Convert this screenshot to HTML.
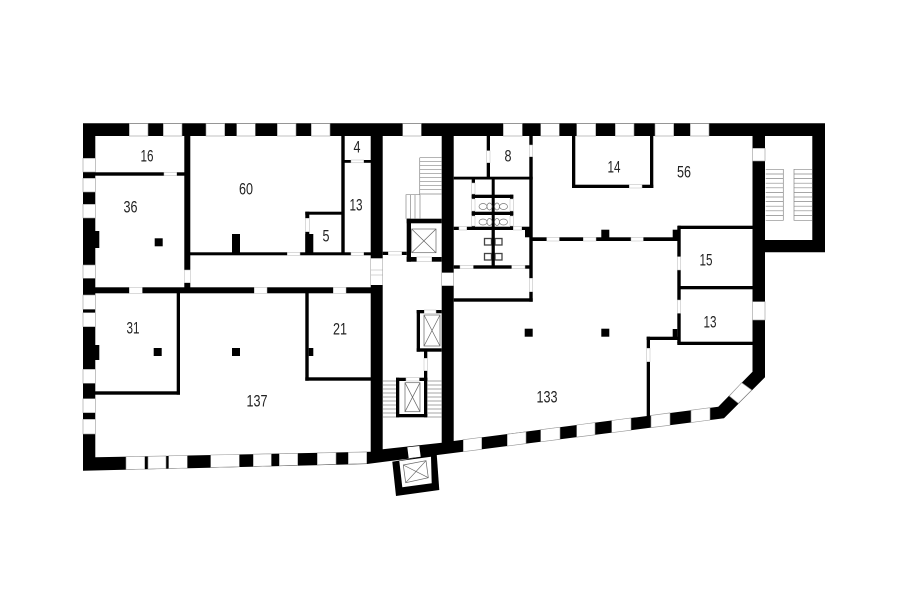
<!DOCTYPE html>
<html><head><meta charset="utf-8"><style>
html,body{margin:0;padding:0;background:#fff}
svg{display:block;filter:blur(.35px)}
.w{fill:#fff;stroke:#999;stroke-width:.6}
.d{fill:#fff;stroke:#bbb;stroke-width:.5}
.s{stroke:#888;stroke-width:.7;fill:none}
.g{stroke:#666;stroke-width:.7;fill:none}
text{font-family:"Liberation Sans",sans-serif;font-size:17px;fill:#222;text-anchor:middle}
</style></head><body>
<svg width="900" height="604" viewBox="0 0 900 604" xmlns="http://www.w3.org/2000/svg">
<rect width="900" height="604" fill="#fff"/>
<!-- shell -->
<polygon points="83,123.3 825,123.3 825,252.3 765,252.3 765,377.3 724,418.3 463,451.7 367,464 83,470.7" fill="#000"/>
<g fill="#fff">
<polygon points="95.3,136 370.7,136 370.7,451.8 95.3,457.3"/>
<polygon points="382.7,136 441.7,136 441.7,442.7 382.7,449.3"/>
<polygon points="453.7,136 752.5,136 752.5,371.7 718.3,406.7 453.7,441"/>
<polygon points="765,136 812.3,136 812.3,240 765,240"/>
</g>
<!-- bottom shaft -->
<polygon points="392.3,461.7 436.7,454 439.3,490 396,496" fill="#000"/>
<polygon points="399.3,461 431,456.7 431.7,483.3 402.3,487.3" fill="#fff"/>
<polygon points="403.3,465 426,460.7 428.3,477.7 405.7,482.7" fill="#fff" stroke="#666" stroke-width=".7"/>
<path d="M403.3 465L428.3 477.7M426 460.7L405.7 482.7" class="g"/>
<polygon points="407.3,447.3 419.3,446 420.7,456.7 408.7,458.3" fill="#fff"/>
<!-- top windows -->
<g class="w">
<rect x="129.3" y="123.6" width="18.7" height="12.4"/><rect x="163.3" y="123.6" width="18.7" height="12.4"/>
<rect x="206" y="123.6" width="18.7" height="12.4"/><rect x="236.7" y="123.6" width="18.6" height="12.4"/>
<rect x="277.3" y="123.6" width="18.7" height="12.4"/><rect x="311.3" y="123.6" width="18.7" height="12.4"/>
<rect x="402.7" y="123.6" width="18.6" height="12.4"/><rect x="503.3" y="123.6" width="19" height="12.4"/>
<rect x="540.7" y="123.6" width="18.6" height="12.4"/><rect x="576.7" y="123.6" width="19" height="12.4"/>
<rect x="615.3" y="123.6" width="18.7" height="12.4"/><rect x="655" y="123.6" width="18.7" height="12.4"/>
<rect x="690.3" y="123.6" width="18.7" height="12.4"/>
<!-- left windows -->
<rect x="83" y="158.3" width="12.3" height="13.7"/><rect x="83" y="178.3" width="12.3" height="13.7"/>
<rect x="83" y="204.3" width="12.3" height="13.7"/><rect x="83" y="265" width="12.3" height="13.3"/>
<rect x="83" y="295" width="12.3" height="14.3"/><rect x="83" y="312.7" width="12.3" height="14"/>
<rect x="83" y="369.3" width="12.3" height="14"/><rect x="83" y="398.7" width="12.3" height="14"/>
<rect x="83" y="419.3" width="12.3" height="14.7"/>
<!-- bottom-left windows -->
<polygon points="126,456.7 144.7,456.3 144.7,469.1 126,469.6"/>
<polygon points="148,456.3 166,455.9 166,468.6 148,469.05"/>
<polygon points="168.7,455.85 187.3,455.5 187.3,468.05 168.7,468.5"/>
<polygon points="210.7,455 239.3,454.5 239.3,466.7 210.7,467.45"/>
<polygon points="253.3,454.2 271.3,453.8 271.3,465.9 253.3,466.4"/>
<polygon points="279.3,453.7 297.7,453.3 297.7,465.25 279.3,465.7"/>
<polygon points="317.3,452.9 336,452.55 336,464.3 317.3,464.75"/>
<polygon points="348.3,452.3 366.7,451.95 366.7,463.5 348.3,464"/>
<!-- bottom-right windows -->
<polygon points="463.3,439.7 481.7,437.3 481.7,449.3 463.3,451.7"/>
<polygon points="507.3,434.2 526,431.8 526,443.6 507.3,446"/>
<polygon points="540.7,429.7 560,427.2 560,439.3 540.7,441.8"/>
<polygon points="576.7,425 595,422.6 595,434.8 576.7,437.1"/>
<polygon points="611.7,420.5 631,418 631,430.2 611.7,432.7"/>
<polygon points="651,415.4 670,412.9 670,425.2 651,427.6"/>
<polygon points="691,410.2 710,407.7 710,420 691,422.5"/>
<polygon points="729.3,396 738.3,403.3 751.7,390 741.7,382.7"/>
<!-- right windows -->
<rect x="752.5" y="148.3" width="12.5" height="12.7"/>
<rect x="752.5" y="301.7" width="12.5" height="18.3"/>
<rect x="441.7" y="272.7" width="12" height="13"/>
</g>
<!-- corridor gap -->
<rect x="370.7" y="258.3" width="12" height="26.7" fill="#fff"/>
<path d="M370.7 258.3V285M382.7 258.3V285M370.7 270H382.7M370.7 275H382.7" stroke="#aaa" stroke-width=".6" fill="none"/>
<!-- walls -->
<g fill="#000">
<rect x="95" y="231" width="4.3" height="17"/><rect x="95" y="345" width="4.3" height="15"/>
<rect x="184.3" y="136" width="6" height="157"/>
<rect x="95" y="287.3" width="276" height="6"/>
<rect x="95" y="172.3" width="90" height="3.4"/>
<rect x="190" y="252.3" width="181" height="3"/>
<rect x="341.3" y="136" width="3.4" height="117"/>
<rect x="344" y="160" width="27" height="2.8"/>
<rect x="305.3" y="211.7" width="37.4" height="3"/>
<rect x="305.3" y="211.7" width="4" height="41"/>
<rect x="305.3" y="234" width="8" height="18.5"/>
<rect x="232" y="234" width="8" height="18.5"/>
<rect x="154.7" y="238.3" width="8" height="8"/>
<rect x="176.7" y="293" width="3.3" height="101.7"/>
<rect x="95" y="391.3" width="85" height="3.4"/>
<rect x="305.3" y="293" width="3.4" height="87.7"/>
<rect x="305.3" y="377.3" width="66" height="3.4"/>
<rect x="308.7" y="348" width="4.6" height="8"/>
<rect x="153.7" y="348" width="8" height="8"/>
<rect x="232" y="348" width="8" height="8"/>
<!-- middle core -->
<rect x="382.7" y="251.7" width="24" height="3.3"/>
<rect x="406.7" y="218.7" width="35" height="4.6"/>
<rect x="406.7" y="218.7" width="4.3" height="43"/>
<rect x="406.7" y="257" width="35" height="4.7"/>
<rect x="416.7" y="310" width="25" height="3.3"/>
<rect x="416.7" y="310" width="3.3" height="41.7"/>
<rect x="416.7" y="348.3" width="25" height="3.4"/>
<rect x="424" y="351" width="3.3" height="30"/>
<rect x="396" y="377.7" width="31.3" height="3.3"/>
<rect x="396" y="377.7" width="3.3" height="39.6"/>
<rect x="424" y="377.7" width="3.3" height="39.6"/>
<rect x="396" y="414" width="31.3" height="3.3"/>
<!-- WC -->
<rect x="486.7" y="136" width="3.3" height="42"/>
<rect x="453.7" y="176.7" width="79" height="2.8"/>
<rect x="529.3" y="136" width="3.4" height="165.7"/>
<rect x="453.7" y="298.3" width="79" height="3.4"/>
<rect x="491.7" y="178" width="3" height="89"/>
<rect x="453.7" y="226.7" width="78" height="3.3"/>
<rect x="453.7" y="265.3" width="76" height="3.4"/>
<rect x="471.7" y="178" width="3.3" height="52"/>
<rect x="510" y="194.7" width="3.3" height="35"/>
<rect x="471.7" y="194.7" width="41.6" height="3.3"/>
<rect x="471.7" y="211.7" width="41.6" height="3.3"/>
<rect x="525" y="228.3" width="7.5" height="9"/>
<rect x="532" y="237.3" width="148" height="3.7"/>
<rect x="601.3" y="229.7" width="8" height="7.8"/>
<rect x="672.7" y="229.7" width="7.3" height="8.3"/>
<rect x="677.3" y="225.7" width="3.4" height="117.6"/>
<rect x="678" y="225.7" width="75" height="3.3"/>
<rect x="680" y="286" width="73" height="3.3"/>
<rect x="677.3" y="341.7" width="75.5" height="3.3"/>
<rect x="672.7" y="329" width="4.6" height="9.3"/>
<rect x="646.7" y="336.7" width="31" height="3.3"/>
<rect x="646.7" y="336.7" width="3.3" height="82"/>
<rect x="524.7" y="328.7" width="8" height="8"/>
<rect x="601.3" y="328.7" width="8" height="8"/>
<!-- room 14 -->
<rect x="572" y="136" width="3.3" height="52"/>
<rect x="572" y="184.7" width="81.3" height="3.3"/>
<rect x="650" y="136" width="3.3" height="52"/>
</g>
<!-- doors -->
<g class="d">
<rect x="129.3" y="287.3" width="13" height="6"/><rect x="254.3" y="287.3" width="12.7" height="6"/><rect x="333.3" y="287.3" width="12.7" height="6"/>
<rect x="164" y="172.3" width="12.7" height="3.4"/>
<rect x="287.3" y="252.3" width="12.7" height="3"/><rect x="351" y="252.3" width="12.7" height="3"/>
<rect x="351" y="160" width="12.7" height="2.8"/>
<rect x="184.3" y="270" width="6" height="12.7"/>
<rect x="305.3" y="218.3" width="4" height="13.4"/>
<rect x="388.3" y="251.7" width="13.4" height="3.3"/>
<rect x="416.7" y="257" width="15" height="4.7"/>
<rect x="424.3" y="310" width="11.7" height="3.3"/>
<rect x="424" y="358.3" width="3.3" height="12.4"/>
<rect x="406" y="377.7" width="13.3" height="3.3"/>
<rect x="486.7" y="150.7" width="3.3" height="12"/>
<rect x="529.3" y="145" width="3.4" height="11.7"/>
<rect x="529.3" y="278.3" width="3.4" height="13.4"/>
<rect x="459" y="226.7" width="7.7" height="3.3"/><rect x="513.3" y="226.7" width="8.4" height="3.3"/>
<rect x="460" y="265.3" width="13.3" height="3.4"/><rect x="511.7" y="265.3" width="13.3" height="3.4"/>
<rect x="471.7" y="183" width="3.3" height="11"/><rect x="471.7" y="199" width="3.3" height="12"/><rect x="471.7" y="216" width="3.3" height="10"/>
<rect x="510" y="199" width="3.3" height="12"/><rect x="510" y="216" width="3.3" height="10"/>
<rect x="546.7" y="237.3" width="12.6" height="3.7"/><rect x="583.3" y="237.3" width="12.7" height="3.7"/><rect x="631" y="237.3" width="12.3" height="3.7"/>
<rect x="677.3" y="256.7" width="3.4" height="13.3"/><rect x="677.3" y="300" width="3.4" height="13.3"/>
<rect x="646.7" y="348.3" width="3.3" height="13.4"/>
<rect x="629.3" y="184.7" width="12.7" height="3.3"/>
</g>
<!-- lift cages -->
<g class="g">
<rect x="411.7" y="229" width="24.3" height="23.7"/><path d="M411.7 229L436 252.7M436 229L411.7 252.7"/>
<rect x="424" y="315" width="16" height="31"/><path d="M424 315L440 346M440 315L424 346"/>
<rect x="405" y="382.7" width="15" height="29"/><path d="M405 382.7L420 411.7M420 382.7L405 411.7"/>
</g>
<!-- stairs -->
<path class="s" d="M419.7 157.7V194H441.7M419.7 157.7H441.7M419.7 161.7H441.7M419.7 165.7H441.7M419.7 169.7H441.7M419.7 173.7H441.7M419.7 177.7H441.7M419.7 181.7H441.7M419.7 185.7H441.7M419.7 189.7H441.7
M406 218.7V194.7H420M410.5 194.7V218.7M415 194.7V218.7M420 194.7V218.7
M382.7 381H396M382.7 385H396M382.7 389H396M382.7 393H396M382.7 397H396M382.7 401H396M382.7 405H396M382.7 409H396M382.7 413H396M382.7 417H396
M427.3 381H441.7M427.3 385H441.7M427.3 389H441.7M427.3 393H441.7M427.3 397H441.7M427.3 401H441.7M427.3 405H441.7M427.3 409H441.7M427.3 413H441.7M427.3 417H441.7
M765.7 169.3H783.3V220.3H765.7M765.7 174H783.3M765.7 178.6H783.3M765.7 183.2H783.3M765.7 187.8H783.3M765.7 192.4H783.3M765.7 197H783.3M765.7 201.6H783.3M765.7 206.2H783.3M765.7 210.8H783.3M765.7 215.4H783.3
M812.3 169.3H794V220.3H812.3M794 174H812.3M794 178.6H812.3M794 183.2H812.3M794 187.8H812.3M794 192.4H812.3M794 197H812.3M794 201.6H812.3M794 206.2H812.3M794 210.8H812.3M794 215.4H812.3"/>
<!-- fixtures -->
<g fill="#fff" stroke="#777" stroke-width=".7">
<ellipse cx="483" cy="206.5" rx="4" ry="3"/><ellipse cx="489.5" cy="206.5" rx="2.5" ry="3.5"/><ellipse cx="497" cy="206.5" rx="2.5" ry="3.5"/><ellipse cx="503.500" cy="206.5" rx="4" ry="3"/>
<ellipse cx="483" cy="222" rx="4" ry="3"/><ellipse cx="489.5" cy="222" rx="2.5" ry="3.5"/><ellipse cx="497" cy="222" rx="2.5" ry="3.5"/><ellipse cx="503.500" cy="222" rx="4" ry="3"/>
</g>
<g fill="#fff" stroke="#444" stroke-width="1.3">
<rect x="484.500" y="238.500" width="7" height="6.5"/><rect x="495" y="238.500" width="7" height="6.5"/>
<rect x="484.500" y="253.500" width="7" height="6.5"/><rect x="495" y="253.500" width="7" height="6.5"/>
</g>
<rect x="491.7" y="230" width="3" height="37" fill="#000"/>
<!-- labels -->
<text x="147" y="161.500" textLength="13" lengthAdjust="spacingAndGlyphs">16</text>
<text x="246" y="194.500" textLength="14" lengthAdjust="spacingAndGlyphs">60</text>
<text x="357" y="152.500" textLength="7" lengthAdjust="spacingAndGlyphs">4</text>
<text x="508" y="161.500" textLength="7" lengthAdjust="spacingAndGlyphs">8</text>
<text x="614" y="172.500" textLength="13" lengthAdjust="spacingAndGlyphs">14</text>
<text x="684" y="177.500" textLength="14" lengthAdjust="spacingAndGlyphs">56</text>
<text x="130.500" y="212.500" textLength="14" lengthAdjust="spacingAndGlyphs">36</text>
<text x="356" y="210.500" textLength="13" lengthAdjust="spacingAndGlyphs">13</text>
<text x="326" y="241.500" textLength="7" lengthAdjust="spacingAndGlyphs">5</text>
<text x="706" y="265.500" textLength="13" lengthAdjust="spacingAndGlyphs">15</text>
<text x="710" y="327.500" textLength="13" lengthAdjust="spacingAndGlyphs">13</text>
<text x="133" y="333.500" textLength="13" lengthAdjust="spacingAndGlyphs">31</text>
<text x="340" y="334.500" textLength="14" lengthAdjust="spacingAndGlyphs">21</text>
<text x="257" y="406.500" textLength="21" lengthAdjust="spacingAndGlyphs">137</text>
<text x="547" y="402.500" textLength="21" lengthAdjust="spacingAndGlyphs">133</text>
</svg>
</body></html>
